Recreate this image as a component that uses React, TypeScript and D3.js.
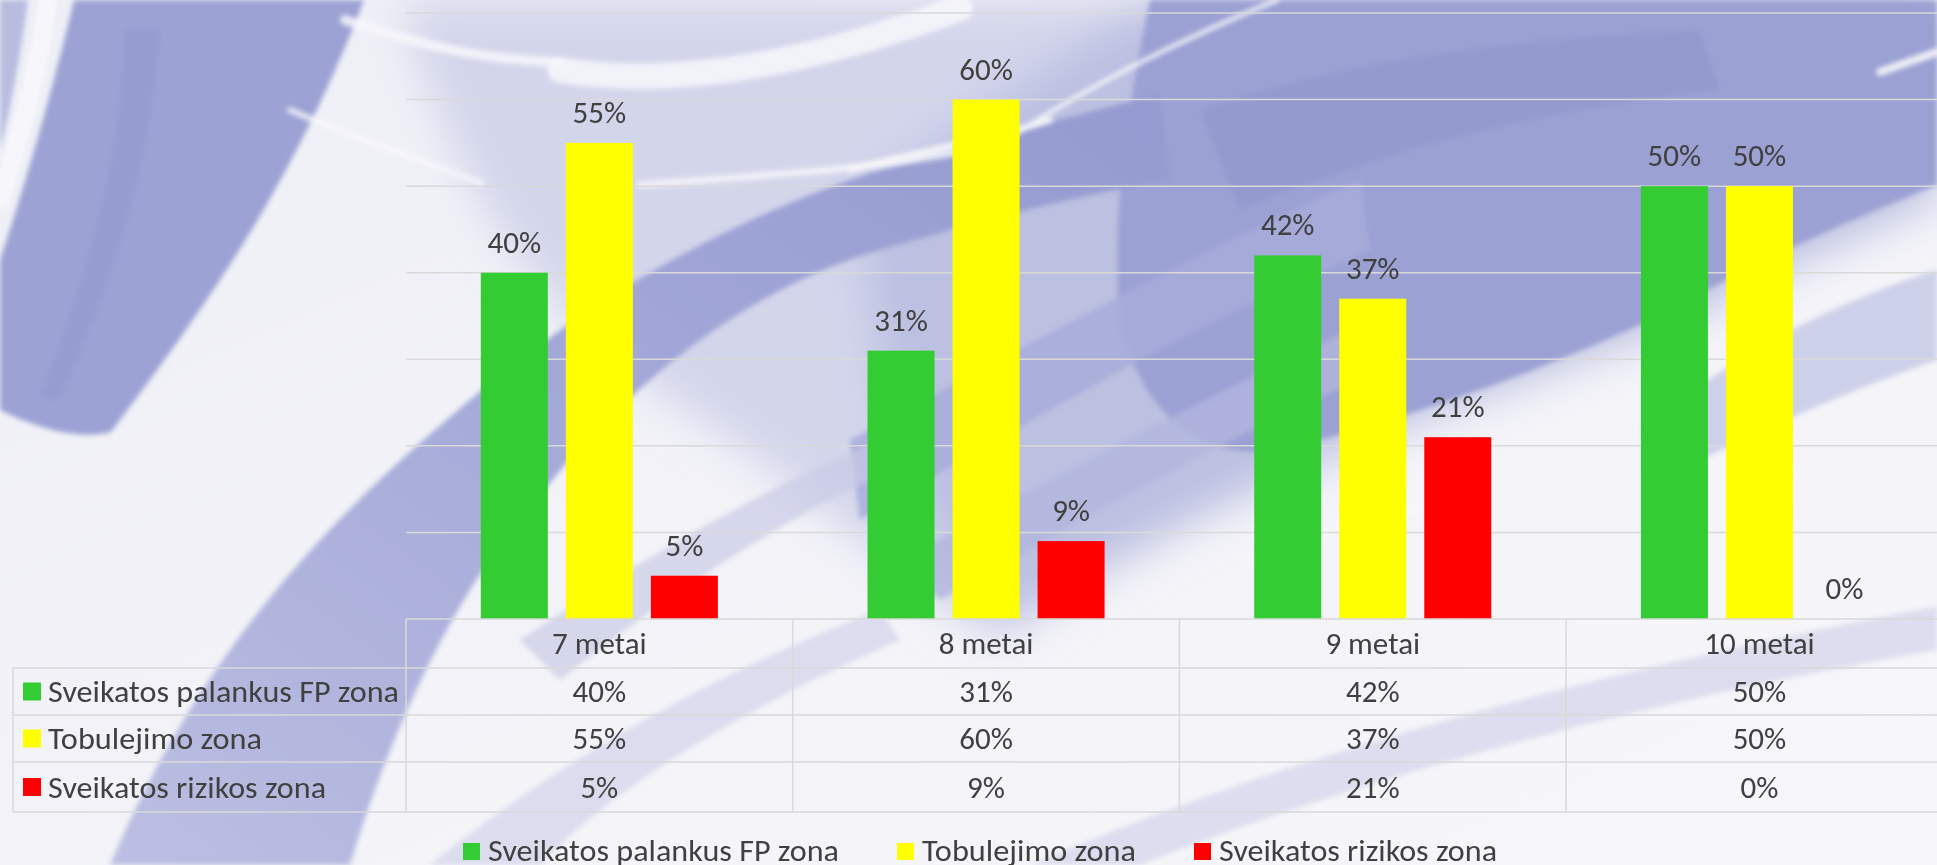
import React from 'react';
import * as d3 from 'd3';

// Chart data
const categories = ['7 metai', '8 metai', '9 metai', '10 metai'];
const seriesNames = ['Sveikatos palankus FP zona', 'Tobulejimo zona', 'Sveikatos rizikos zona'];
const seriesColors = ['#33CC33', '#FFFF00', '#FF0000'];
const palankus = [0.40, 0.31, 0.42, 0.50];
const tobulejimo = [0.55, 0.60, 0.37, 0.50];
const rizikos = [0.05, 0.09, 0.21, 0.0];
const gridValues = [0.1, 0.2, 0.3, 0.4, 0.5, 0.6, 0.7];

const seriesValues = [palankus, tobulejimo, rizikos];

const W = 1937;
const H = 865;
const FONT = 'Carlito, Calibri, Lato, sans-serif';
const TEXT = '#404040';
const LINE = '#d9d9d9';
const FS = 31;

const labelWidths = [351, 214, 278];

// decorative background: soft lavender brush strokes
function Background() {
  return (
    <g>
      <defs>
        <linearGradient id="base" x1="0" y1="0" x2="1" y2="1">
          <stop offset="0" stopColor="#eeeff6" />
          <stop offset="1" stopColor="#f7f7fa" />
        </linearGradient>
        <linearGradient id="bandD" x1="0" y1="1" x2="1" y2="0">
          <stop offset="0" stopColor="#bcbfe2" />
          <stop offset="0.5" stopColor="#a4a9d8" />
          <stop offset="1" stopColor="#949acf" />
        </linearGradient>
        <filter id="soft" x="-10%" y="-10%" width="120%" height="120%">
          <feGaussianBlur stdDeviation="2.5" />
        </filter>
        <filter id="softer" x="-20%" y="-20%" width="140%" height="140%">
          <feGaussianBlur stdDeviation="22" />
        </filter>
      </defs>
      <rect width={W} height={H} fill="url(#base)" />
      {/* broad lavender washes */}
      <g filter="url(#softer)">
        <path d="M380,0 L1937,0 L1937,200 C1800,260 1700,310 1650,340 C1500,390 1350,450 1200,520 C1100,570 1040,610 1000,640 C920,600 820,500 700,420 C560,330 460,220 400,0 Z" fill="#d3d5eb" />
        <path d="M860,200 C960,120 1060,60 1150,0 L1937,0 L1937,200 C1780,270 1640,340 1400,420 C1250,480 1120,560 1010,625 C930,560 880,450 860,200 Z" fill="#bcc0e1" />
      </g>
      <g filter="url(#soft)">
        {/* top-left brush band */}
        <path d="M0,0 L28,0 C20,60 10,110 0,150 Z" fill="#b8bcdf" />
        <path d="M74,0 L364,0 C330,90 280,190 220,280 C180,340 150,380 111,432 C80,440 40,430 0,410 L0,260 C30,170 55,80 74,0 Z" fill="#9ca2d4" />
        <path d="M160,30 C150,150 130,240 60,400 L40,398 C100,240 120,150 125,30 Z" fill="#8f96cc" opacity="0.5" />
        {/* upper right blue field */}
        <path d="M1150,0 L1937,0 L1937,185 C1850,220 1760,260 1650,320 C1520,380 1400,420 1280,450 C1200,460 1150,420 1120,330 C1110,200 1130,100 1150,0 Z" fill="#9ba1d3" />
        <path d="M1200,110 C1350,60 1500,40 1700,30 L1720,90 C1540,110 1380,150 1240,210 Z" fill="#8e95cb" opacity="0.55" />
        {/* lighter diagonal streaks through the 8-9 metai area */}
        <path d="M850,440 C1000,360 1180,260 1360,180 L1370,250 C1200,320 1030,420 860,520 Z" fill="#a7acd9" opacity="0.85" />
        <path d="M900,560 C1050,480 1200,400 1350,330 L1360,380 C1220,440 1080,520 940,600 Z" fill="#b1b5dd" opacity="0.8" />
        {/* diagonal band rising from the lower left */}
        <path d="M110,865 C180,700 280,560 450,417 C560,320 700,230 870,173 C950,150 1050,120 1160,95 L1170,180 C1050,200 950,230 870,253 C720,300 610,410 550,483 C470,570 400,700 350,865 Z" fill="url(#bandD)" />
        {/* faint bands lower down */}
        <path d="M520,640 C640,560 760,490 880,440 L890,470 C780,520 660,600 560,680 Z" fill="#c9cbe6" opacity="0.7" />
        <path d="M430,865 C560,760 720,670 880,610 L900,640 C760,700 620,780 540,865 Z" fill="#d0d2ea" opacity="0.7" />
        <path d="M1030,865 C1250,770 1550,680 1937,606 L1937,650 C1600,710 1330,790 1140,865 Z" fill="#dcdeef" />
        <path d="M1640,430 C1740,350 1840,300 1937,270 L1937,360 C1850,390 1760,430 1680,470 Z" fill="#cdd0e9" />
      </g>
      {/* white highlights */}
      <g fill="none" stroke="#f7f7fb" strokeLinecap="round" filter="url(#soft)">
        <path d="M48,0 C40,60 25,120 0,200" strokeWidth={18} />
        <path d="M345,20 C420,45 480,60 560,62" strokeWidth={10} opacity={0.85} />
        <path d="M560,70 C680,90 820,60 960,8" strokeWidth={26} opacity={0.85} />
        <path d="M290,110 C360,140 420,160 481,183" strokeWidth={6} opacity={0.8} />
        <path d="M640,185 C760,175 870,170 968,150" strokeWidth={7} opacity={0.8} />
        <path d="M850,170 C920,150 990,140 1050,120" strokeWidth={6} opacity={0.9} />
        <path d="M1017,133 C1100,80 1180,40 1277,0" strokeWidth={5} opacity={0.85} />
        <path d="M1880,72 C1900,65 1920,58 1937,52" strokeWidth={8} opacity={0.9} />
        <path d="M1250,560 C1330,530 1400,510 1470,500" strokeWidth={12} opacity={0.7} />
        <path d="M1520,470 C1620,480 1720,490 1810,470" strokeWidth={8} opacity={0.6} />
      </g>
    </g>
  );
}

export default function App() {
  const plotLeft = 406;
  const bandW = 386.7;
  const yBase = 619;
  const yTop = 13;
  const rowTops = [619, 668, 715, 762, 812];
  const tableLeft = 13;

  const x0 = d3.scaleBand<string>()
    .domain(categories)
    .range([plotLeft, plotLeft + bandW * categories.length])
    .paddingInner(0)
    .paddingOuter(0);

  const x1 = d3.scaleBand<string>()
    .domain(seriesNames)
    .range([0, x0.bandwidth()])
    .paddingInner(0.212)
    .paddingOuter(0.88);

  const y = d3.scaleLinear().domain([0, 0.7]).range([yBase, yTop]);
  const pct = d3.format('.0%');

  const plotRight = plotLeft + bandW * categories.length;

  // legend layout
  const legendSquare = 17;
  const legendGap = 8;
  const legendSpacing = 58;
  const legendTotal = labelWidths.reduce((s, w) => s + w + legendSquare + legendGap, 0) + legendSpacing * 2;
  let lx = 980 - legendTotal / 2;
  const legendItems = seriesNames.map((name, i) => {
    const item = { name, color: seriesColors[i], x: lx, w: labelWidths[i] };
    lx += legendSquare + legendGap + labelWidths[i] + legendSpacing;
    return item;
  });

  return (
    <svg
      width={W}
      height={H}
      viewBox={`0 0 ${W} ${H}`}
      style={{ position: 'fixed', left: 0, top: 0, fontFamily: FONT }}
    >
      <Background />

      {/* gridlines */}
      {gridValues.map(v => (
        <line key={v} x1={plotLeft} x2={W} y1={y(v)} y2={y(v)} stroke={LINE} strokeWidth={1.5} />
      ))}

      {/* bars + data labels */}
      {categories.map((cat, ci) => (
        <g key={cat} transform={`translate(${x0(cat)},0)`}>
          {seriesNames.map((s, si) => {
            const v = seriesValues[si][ci];
            return (
              <g key={s}>
                <rect
                  x={x1(s)}
                  y={y(v)}
                  width={x1.bandwidth()}
                  height={yBase - y(v)}
                  fill={seriesColors[si]}
                />
                <text
                  x={(x1(s) || 0) + x1.bandwidth() / 2}
                  y={y(v) - 20}
                  textAnchor="middle"
                  fontSize={FS}
                  fill={TEXT}
                >
                  {pct(v)}
                </text>
              </g>
            );
          })}
        </g>
      ))}

      {/* data table */}
      <g stroke={LINE} strokeWidth={1.5} fill="none">
        <line x1={plotLeft} x2={plotRight} y1={rowTops[0]} y2={rowTops[0]} />
        {rowTops.slice(1).map(t => (
          <line key={t} x1={tableLeft} x2={plotRight} y1={t} y2={t} />
        ))}
        <line x1={tableLeft} x2={tableLeft} y1={rowTops[1]} y2={rowTops[4]} />
        {categories.map(cat => (
          <line key={cat} x1={x0(cat)} x2={x0(cat)} y1={rowTops[0]} y2={rowTops[4]} />
        ))}
      </g>
      <g fontSize={FS} fill={TEXT} textAnchor="middle">
        {categories.map(cat => (
          <text key={cat} x={(x0(cat) || 0) + x0.bandwidth() / 2} y={(rowTops[0] + rowTops[1]) / 2} dy="0.35em">
            {cat}
          </text>
        ))}
        {seriesNames.map((s, si) =>
          categories.map((cat, ci) => (
            <text
              key={s + cat}
              x={(x0(cat) || 0) + x0.bandwidth() / 2}
              y={(rowTops[si + 1] + rowTops[si + 2]) / 2}
              dy="0.35em"
            >
              {pct(seriesValues[si][ci])}
            </text>
          ))
        )}
      </g>
      {seriesNames.map((s, si) => {
        const cy = (rowTops[si + 1] + rowTops[si + 2]) / 2;
        return (
          <g key={s}>
            <rect x={23} y={cy - 9} width={18} height={18} fill={seriesColors[si]} />
            <text
              x={48}
              y={cy}
              dy="0.35em"
              fontSize={FS}
              fill={TEXT}
              textLength={labelWidths[si]}
              lengthAdjust="spacingAndGlyphs"
            >
              {s}
            </text>
          </g>
        );
      })}

      {/* legend (clipped by the bottom edge, as in the original) */}
      {legendItems.map(item => (
        <g key={item.name}>
          <rect x={item.x} y={843} width={legendSquare} height={legendSquare} fill={item.color} />
          <text
            x={item.x + legendSquare + legendGap}
            y={861}
            fontSize={FS}
            fill={TEXT}
            textLength={item.w}
            lengthAdjust="spacingAndGlyphs"
          >
            {item.name}
          </text>
        </g>
      ))}
    </svg>
  );
}
